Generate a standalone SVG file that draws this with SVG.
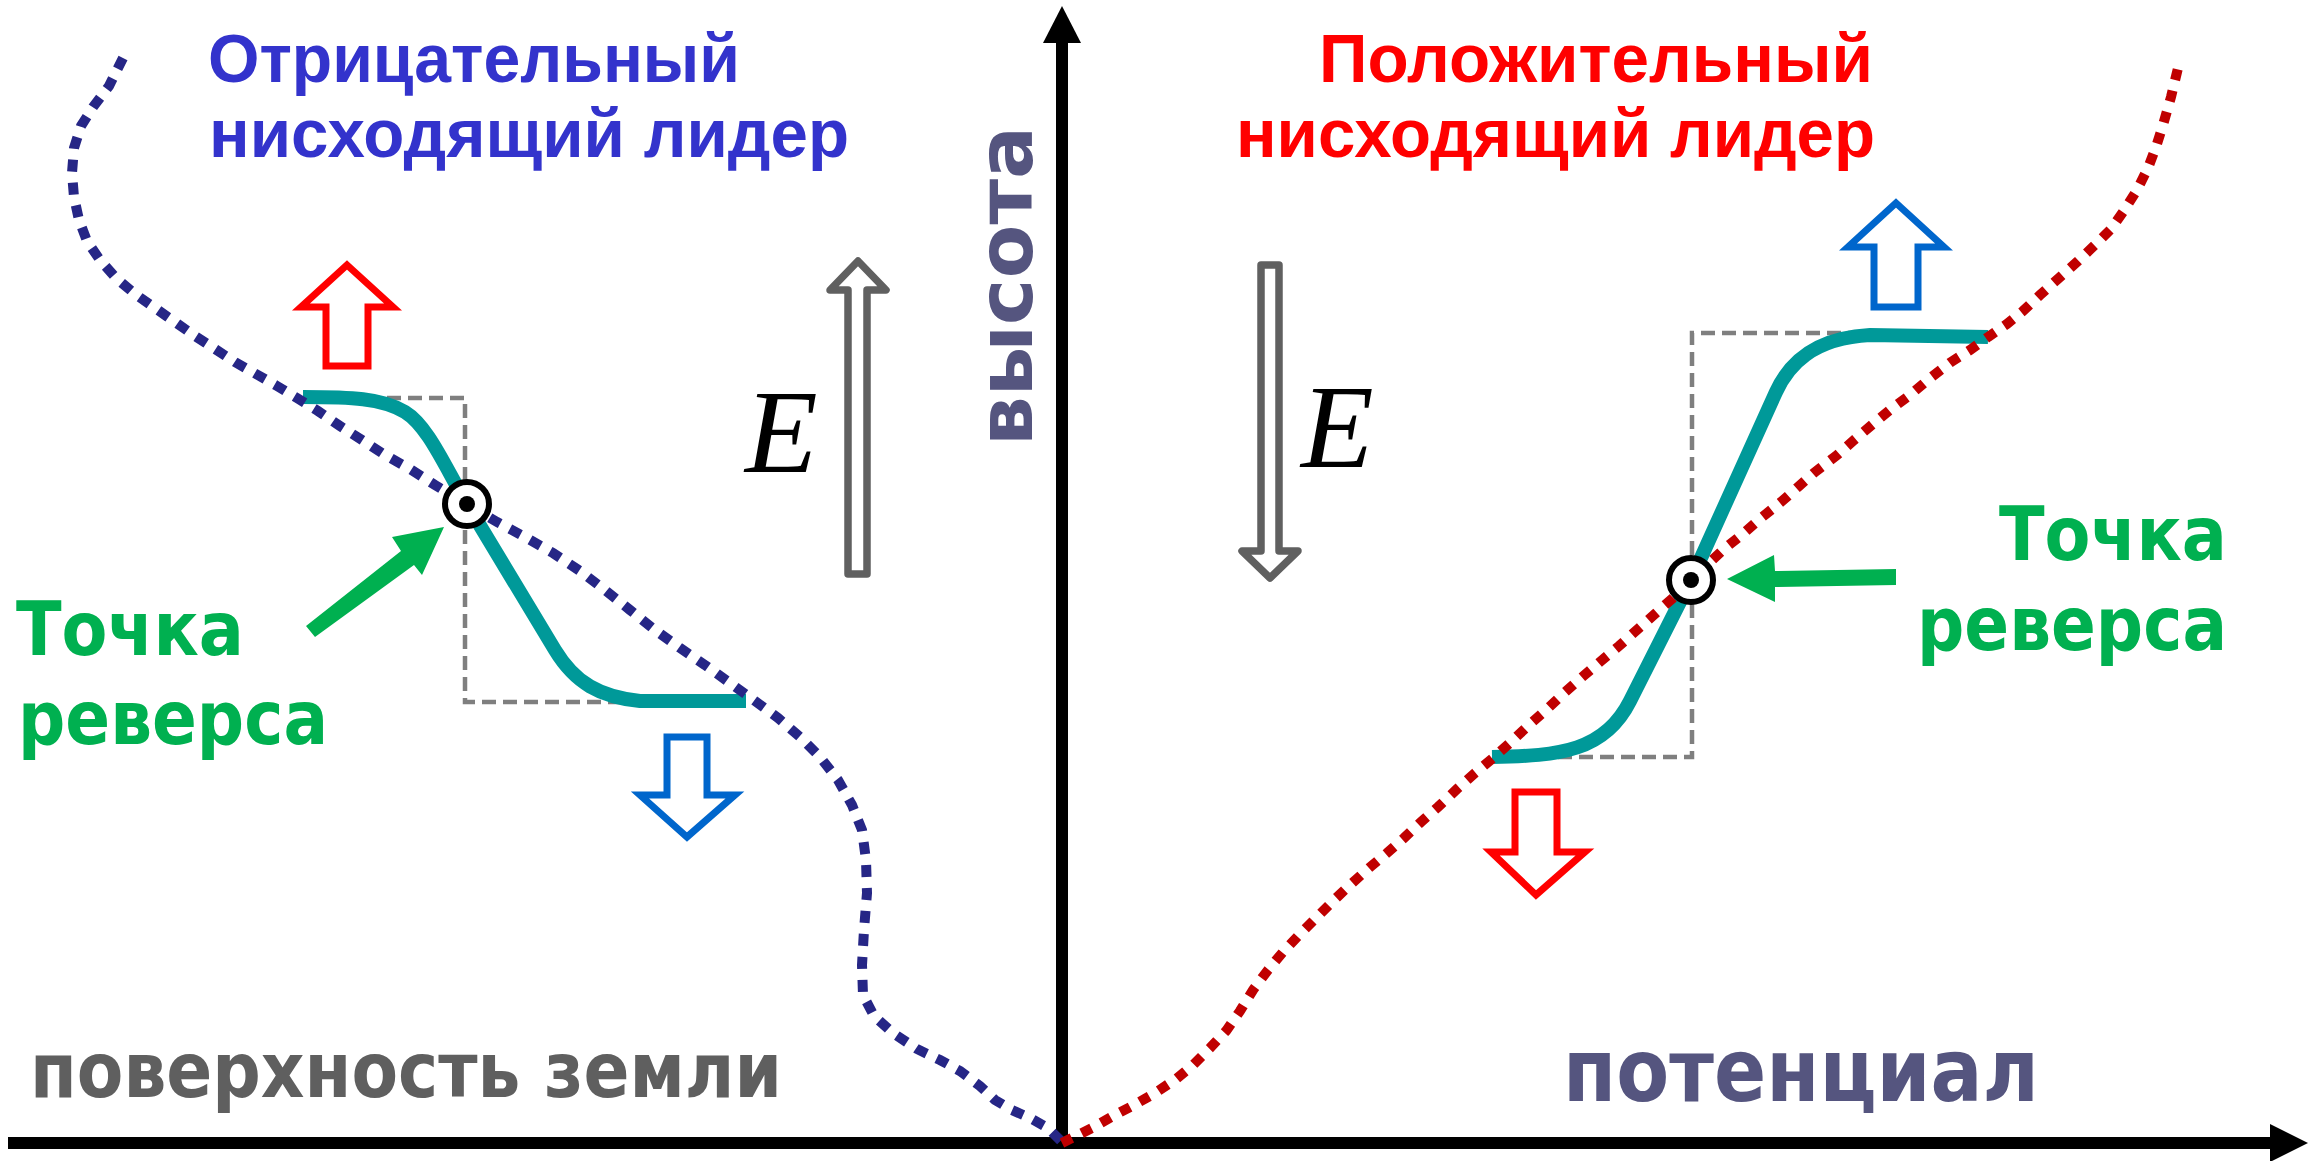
<svg xmlns="http://www.w3.org/2000/svg" width="2318" height="1161" viewBox="0 0 2318 1161">
<style>
.bold{font-family:"DejaVu Sans","Liberation Sans",sans-serif;font-weight:bold}
.title{font-family:"Liberation Sans",Arial,sans-serif;font-weight:bold;font-size:68px}
.green{fill:#00B050;font-size:75px}
.e{font-family:"Liberation Serif","Times New Roman",serif;font-style:italic;font-size:119px;fill:#000}
.hollow{fill:#fff;stroke-width:7;stroke-linejoin:miter}
.grayarrow{fill:#fff;stroke:#606060;stroke-width:7.5;stroke-linejoin:round}
.guide{fill:none;stroke:#7F7F7F;stroke-width:4.5;stroke-dasharray:14 7}
.teal{fill:none;stroke:#009999;stroke-width:14;stroke-linecap:butt;stroke-linejoin:round}
.dot-blue{fill:none;stroke:#262686;stroke-width:10;stroke-dasharray:12 11}
.dot-red{fill:none;stroke:#C00000;stroke-width:10;stroke-dasharray:11 11}
.mark{fill:#fff;stroke:#000;stroke-width:6}
</style>

<g id="axes">
<line x1="8" y1="1143" x2="2272" y2="1143" stroke="#000" stroke-width="12"/>
<polygon points="2308,1143 2270,1124 2270,1162" fill="#000"/>
<line x1="1062" y1="1149" x2="1062" y2="40" stroke="#000" stroke-width="12"/>
<polygon points="1062,6 1081,43 1043,43" fill="#000"/>
</g>

<g id="axis-labels">
<text class="bold" x="30" y="1097" font-size="77" fill="#5F5F5F" textLength="752" lengthAdjust="spacingAndGlyphs">поверхность земли</text>
<text class="bold" x="1563" y="1101" font-size="87" fill="#55557F" textLength="476" lengthAdjust="spacingAndGlyphs">потенциал</text>
<text class="bold" transform="translate(1032,446) rotate(-90)" x="0" y="0" font-size="77" fill="#55557F" textLength="320" lengthAdjust="spacingAndGlyphs">высота</text>
</g>

<g id="title-negative">
<text class="title" x="208" y="82" fill="#3333CC" textLength="532" lengthAdjust="spacingAndGlyphs">Отрицательный</text>
<text class="title" x="209" y="157" fill="#3333CC" textLength="640" lengthAdjust="spacingAndGlyphs">нисходящий лидер</text>
</g>

<g id="title-positive">
<text class="title" x="1873" y="82" fill="#FF0000" text-anchor="end" textLength="554" lengthAdjust="spacingAndGlyphs">Положительный</text>
<text class="title" x="1875" y="157" fill="#FF0000" text-anchor="end" textLength="639" lengthAdjust="spacingAndGlyphs">нисходящий лидер</text>
</g>

<g id="field-left">
<polygon class="grayarrow" points="858,261 886,290 867,290 867,574 848,574 848,290 830,290"/>
<text class="e" x="745" y="472">E</text>
</g>

<g id="field-right">
<polygon class="grayarrow" points="1261,265 1279,265 1279,551 1298,551 1270,578 1242,551 1261,551"/>
<text class="e" x="1301" y="467">E</text>
</g>

<g id="guides">
<polyline class="guide" points="303,398 465,398 465,702 746,702"/>
<polyline class="guide" points="1988,333 1692,333 1692,757 1492,757"/>
</g>

<g id="teal-curves">
<path class="teal" d="M303,397 C350,397 382,398 405,412 C428,426 445,467 467,504 L555,650 C575,683 600,697 640,701 L746,701"/>
<path class="teal" d="M1492,757 C1560,756 1605,751 1630,701 L1691,580 L1776,392 C1788,365.5 1812,338 1870,335 L1988,337"/>
</g>

<g id="leader-negative">
<path class="dot-blue" d="M123,58 L109,86 L93,107 L81,126 L74,148 L72,173 L74,197 L79,220 L87,241 L100,260 L116,278 L135,294 L155,308 L175,322 L195,336 L215,349 L235,362 L256,374 L277,386 L297,398 L318,411 L340,426 L362,440 L385,455 L410,469 L435,485 L467,504 L497,522 L525,537 L553,553 L580,571 L605,590 L630,610 L655,630 L680,648 L705,665 L730,683 L755,701 L778,718 L800,737 L820,757 L838,780 L852,805 L862,830 L866,860 L867,893 L864,930 L862,965 L863,995 L874,1016 L893,1033 L917,1049 L940,1060 L960,1071 L980,1086 L995,1100 L1012,1110 L1030,1118 L1048,1128 L1062,1142"/>
</g>

<g id="leader-positive">
<path class="dot-red" d="M1062,1143 L1092,1128 L1113,1116 L1134,1105 L1155,1093 L1176,1079 L1193,1065 L1210,1048 L1226,1031 L1240,1011 L1253,990 L1268,970 L1283,952 L1299,935 L1316,918 L1333,901 L1350,885 L1369,868 L1387,853 L1404,838 L1421,822 L1438,807 L1457,789 L1475,773 L1493,758 L1512,741 L1529,725 L1546,710 L1563,694 L1581,678 L1601,661 L1619,646 L1638,629 L1656,613 L1673,598 L1691,580 L1708,564 L1724,549 L1744,533 L1761,518 L1781,502 L1798,487 L1815,472 L1836,456 L1853,441 L1873,424 L1891,409 L1910,395 L1929,379 L1951,362 L1970,350 L1988,337 L2007,324 L2023,311 L2040,295 L2059,278 L2078,261 L2096,244 L2111,229 L2123,212 L2137,190 L2148,168 L2156,147 L2163,125 L2171,97 L2178,68"/>
</g>

<g id="reversal-left">
<circle class="mark" cx="467" cy="504" r="22"/>
<circle cx="467" cy="504" r="8" fill="#000"/>
<polygon points="306,626 401,551 392,537 444,527 422,575 414,565 315,637" fill="#00B050"/>
<text class="bold green" x="16" y="655" textLength="228" lengthAdjust="spacingAndGlyphs">Точка</text>
<text class="bold green" x="18" y="744" textLength="310" lengthAdjust="spacingAndGlyphs">реверса</text>
</g>

<g id="reversal-right">
<circle class="mark" cx="1691" cy="580" r="22"/>
<circle cx="1691" cy="580" r="8" fill="#000"/>
<polygon points="1727,579 1774,555 1775,571 1896,569 1896,585 1775,587 1775,602" fill="#00B050"/>
<text class="bold green" x="2227" y="560" text-anchor="end" textLength="228" lengthAdjust="spacingAndGlyphs">Точка</text>
<text class="bold green" x="2227" y="650" text-anchor="end" textLength="310" lengthAdjust="spacingAndGlyphs">реверса</text>
</g>

<g id="shift-arrows">
<polygon class="hollow" stroke="#FF0000" points="347,265 393,307 368,307 368,366 326,366 326,307 301,307"/>
<polygon class="hollow" stroke="#0066CC" points="667,737 707,737 707,795 735,795 687,837 640,795 667,795"/>
<polygon class="hollow" stroke="#0066CC" points="1896,203 1944,247 1918,247 1918,307 1874,307 1874,247 1848,247"/>
<polygon class="hollow" stroke="#FF0000" points="1515,792 1557,792 1557,852 1585,852 1536,895 1491,852 1515,852"/>
</g>
</svg>
